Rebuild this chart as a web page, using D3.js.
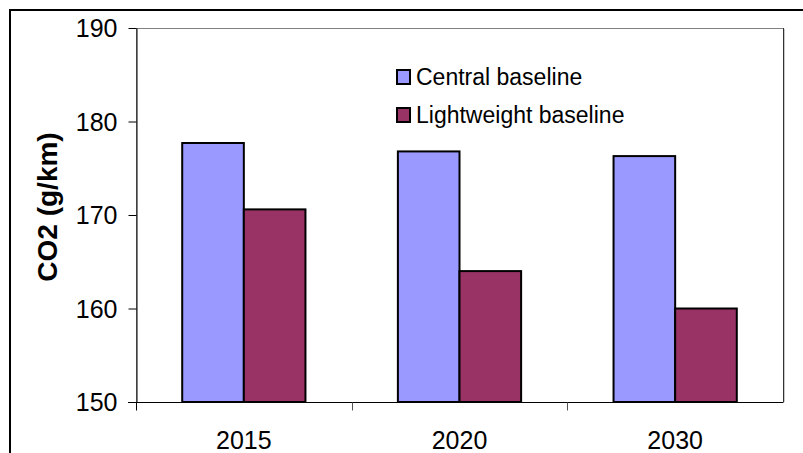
<!DOCTYPE html>
<html>
<head>
<meta charset="utf-8">
<script src="https://cdn.jsdelivr.net/npm/d3@7"></script>
<style>
  html, body { margin: 0; padding: 0; background: #fff; }
  svg { display: block; }
  text { font-family: "Liberation Sans", Arial, sans-serif; fill: #000; }
</style>
</head>
<body>
<svg id="chart" width="803" height="453"></svg>
<script>
// Average new-car CO2 emissions by year, two baseline scenarios
const years = ["2015", "2020", "2030"];
const seriesNames = ["Central baseline", "Lightweight baseline"];
const centralValues = [177.7, 176.8, 176.3];
const lightweightValues = [170.6, 164.0, 160.0];
const yTicks = [150, 160, 170, 180, 190];
const seriesColors = ["#9999FF", "#993366"];

const valuesBySeries = [centralValues, lightweightValues];
const rows = years.map((yr, i) => ({
  year: yr,
  bars: seriesNames.map((s, j) => ({ series: s, value: valuesBySeries[j][i], color: seriesColors[j] }))
}));

const svg = d3.select("#chart");
const plot = { left: 136, right: 783, top: 28, bottom: 402 };

// Outer chart frame
svg.append("rect")
  .attr("x", 10).attr("y", 10)
  .attr("width", 820).attr("height", 480)
  .attr("fill", "none").attr("stroke", "#000").attr("stroke-width", 2);

const x0 = d3.scaleBand().domain(years).range([plot.left, plot.right]).paddingInner(0).paddingOuter(0);
const x1 = d3.scaleBand().domain(seriesNames).range([0, x0.bandwidth()]).paddingInner(0).paddingOuter(0.75);
const y = d3.scaleLinear().domain([150, 190]).range([plot.bottom, plot.top]);

// Plot area border
svg.append("rect")
  .attr("x", plot.left + 0.5).attr("y", plot.top + 0.5)
  .attr("width", plot.right - plot.left).attr("height", plot.bottom - plot.top)
  .attr("fill", "#fff").attr("stroke", "#808080").attr("stroke-width", 1);
svg.append("line")
  .attr("x1", plot.right + 1.5).attr("x2", plot.right + 1.5)
  .attr("y1", plot.top + 1).attr("y2", plot.bottom)
  .attr("stroke", "#c8c8c8").attr("stroke-width", 1);
svg.append("line")
  .attr("x1", plot.right + 0.5).attr("x2", plot.right + 0.5)
  .attr("y1", plot.top).attr("y2", plot.bottom)
  .attr("stroke", "#333").attr("stroke-width", 1);

// Bars
const groups = svg.append("g").selectAll("g")
  .data(rows).join("g")
  .attr("transform", d => `translate(${x0(d.year)},0)`);
groups.selectAll("rect")
  .data(d => d.bars).join("rect")
  .attr("x", d => x1(d.series))
  .attr("y", d => y(d.value))
  .attr("width", x1.bandwidth())
  .attr("height", d => y(150) - y(d.value))
  .attr("fill", d => d.color)
  .attr("stroke", "#000")
  .attr("stroke-width", 2);

// Y axis
const yAxis = svg.append("g")
  .attr("transform", `translate(${plot.left + 0.5},0)`)
  .call(d3.axisLeft(y).tickValues(yTicks).tickSize(8).tickSizeOuter(0).tickPadding(11));
yAxis.select(".domain").attr("stroke", "#000");
yAxis.selectAll(".tick line").attr("stroke", "#000");
yAxis.selectAll(".tick text")
  .style("font-size", "25px")
  .attr("font-family", "Liberation Sans, Arial, sans-serif")
  .attr("dy", "0.35em");

// X axis (ticks at category boundaries)
const xAxisG = svg.append("g").attr("transform", `translate(0,${plot.bottom + 0.5})`);
xAxisG.append("line")
  .attr("x1", plot.left - 8).attr("x2", plot.right)
  .attr("stroke", "#000");
const boundaries = years.map(yr => x0(yr)).concat([x0(years[years.length - 1]) + x0.bandwidth()]);
xAxisG.selectAll("line.tk")
  .data(boundaries.slice(1, -1)).join("line").attr("class", "tk")
  .attr("x1", d => Math.round(d) + 0.5).attr("x2", d => Math.round(d) + 0.5)
  .attr("y1", 0).attr("y2", 8)
  .attr("stroke", "#555");
xAxisG.append("line")
  .attr("x1", plot.left + 0.5).attr("x2", plot.left + 0.5)
  .attr("y1", 0).attr("y2", 8).attr("stroke", "#000");
xAxisG.selectAll("text")
  .data(years).join("text")
  .attr("x", d => x0(d) + x0.bandwidth() / 2)
  .attr("y", 46)
  .attr("text-anchor", "middle")
  .style("font-size", "25px")
  .text(d => d);

// Y axis title
svg.append("text")
  .attr("transform", "translate(57,207) rotate(-90)")
  .attr("text-anchor", "middle")
  .style("font-size", "28px")
  .style("font-weight", "bold")
  .text("CO2 (g/km)");

// Legend
const legend = svg.append("g").attr("transform", "translate(396,69)");
const items = legend.selectAll("g")
  .data(seriesNames).join("g")
  .attr("transform", (d, i) => `translate(0,${i * 38})`);
items.append("rect")
  .attr("x", 1).attr("y", 1)
  .attr("width", 13).attr("height", 14)
  .attr("fill", (d, i) => seriesColors[i])
  .attr("stroke", "#000").attr("stroke-width", 2);
items.append("text")
  .attr("x", 20).attr("y", 16)
  .style("font-size", "23px")
  .text(d => d);
</script>
</body>
</html>
